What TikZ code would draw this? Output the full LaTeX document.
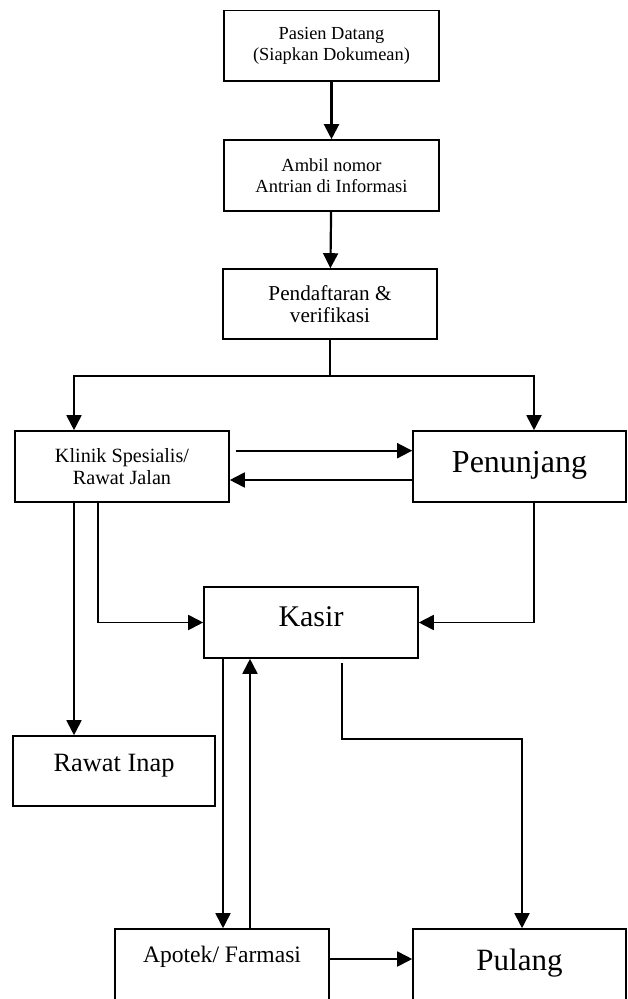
\documentclass[tikz,border=0pt]{standalone}
\usepackage{fontspec}
\setmainfont{Liberation Serif}
\usepackage{xcolor}
\usepackage{tikz}
\usetikzlibrary{arrows.meta}
\usetikzlibrary{positioning}

\begin{document}
\begin{tikzpicture}[x=0.5pt,y=-0.5pt,
    box/.style={draw,line width=0.8pt,align=center,inner sep=2pt},
    line/.style={line width=0.9pt},
    arrow/.style={line width=0.9pt,-{Triangle[length=7.5pt,width=7.5pt]}}]

    \clip (0,0) rectangle (627,999); % Clips the picture...

    % the boxes
    \node[box,minimum width=107.5pt,minimum height=35.3pt,font=\fontsize{9.2}{10.85}\selectfont] (pasien) at (331.5,46) {Pasien Datang\\(Siapkan Dokumean)};
    \node[box,minimum width=107.5pt,minimum height=35.5pt,font=\fontsize{9.25}{10.5}\selectfont] (ambil) at (331.5,175.5) {Ambil nomor\\Antrian di Informasi};
    \node[box,minimum width=107pt,minimum height=35pt,font=\fontsize{10.6}{11.2}\selectfont] (daftar) at (330,304) {Pendaftaran \&\\verifikasi};
    \node[box,minimum width=107pt,minimum height=35.5pt,font=\fontsize{10.1}{11.3}\selectfont] (klinik) at (122,466.5) {Klinik Spesialis/\\Rawat Jalan};
    \node[box,minimum width=106.5pt,minimum height=35.5pt,font=\fontsize{16}{19}\selectfont,text height=11.2pt,text depth=5.1pt] (penunjang) at (519.5,466.5) {Penunjang};
    \node[box,minimum width=107pt,minimum height=35.5pt,font=\fontsize{15}{18}\selectfont,text height=10.5pt,text depth=6.1pt] (kasir) at (311,622.5) {Kasir};
    \node[box,minimum width=101pt,minimum height=35pt,font=\fontsize{13.2}{15.8}\selectfont,text height=9.24pt,text depth=8.5pt] (rawat) at (114,771) {Rawat Inap};
    \node[box,minimum width=107pt,minimum height=45pt,font=\fontsize{11.8}{14}\selectfont,text height=8.3pt,text depth=19.5pt] (apotek) at (222,974) {Apotek/ Farmasi};
    \node[box,minimum width=106.5pt,minimum height=45pt,font=\fontsize{15.5}{18.6}\selectfont,text height=10.9pt,text depth=14.6pt] (pulang) at (519.5,974) {Pulang};

    % top of the flow
    \draw[arrow,line width=1.1pt] (pasien) -- (ambil);
    \draw[arrow,line width=1.1pt] (ambil) -- (daftar);

    % split to klinik and penunjang
    \coordinate (split) at ([yshift=-18pt]daftar.south);
    \draw[line] (daftar.south) -- (split);
    \draw[arrow] (split) -| ([xshift=-24pt]klinik.north);
    \draw[arrow] (split) -| ([xshift=7.25pt]penunjang.north);

    % klinik <-> penunjang
    \draw[arrow] ([xshift=3pt,yshift=7.9pt]klinik.east) -- ([yshift=7.9pt]penunjang.west);
    \draw[arrow] ([yshift=-6.75pt]penunjang.west) -- ([yshift=-6.75pt]klinik.east);

    % to kasir and rawat inap
    \draw[arrow] ([xshift=-12pt]klinik.south) |- (kasir.west);
    \draw[arrow] ([xshift=7.25pt]penunjang.south) |- (kasir.east);
    \draw[arrow] ([xshift=-24pt]klinik.south) -- ([xshift=-24pt]klinik.south |- rawat.north);

    % kasir <-> apotek
    \draw[arrow] ([xshift=-44pt]kasir.south) -- ([xshift=-44pt]kasir.south |- apotek.north);
    \draw[arrow] ([xshift=14pt]apotek.north) -- ([xshift=14pt]apotek.north |- kasir.south);

    % to pulang
    \coordinate (turn) at (342,739);
    \draw[arrow] ([xshift=15.5pt,yshift=-2pt]kasir.south) -- (turn) -| ([xshift=1.25pt]pulang.north);
    \draw[arrow] ([yshift=7.5pt]apotek.east) -- ([yshift=7.5pt]pulang.west);

\end{tikzpicture}
\end{document}
